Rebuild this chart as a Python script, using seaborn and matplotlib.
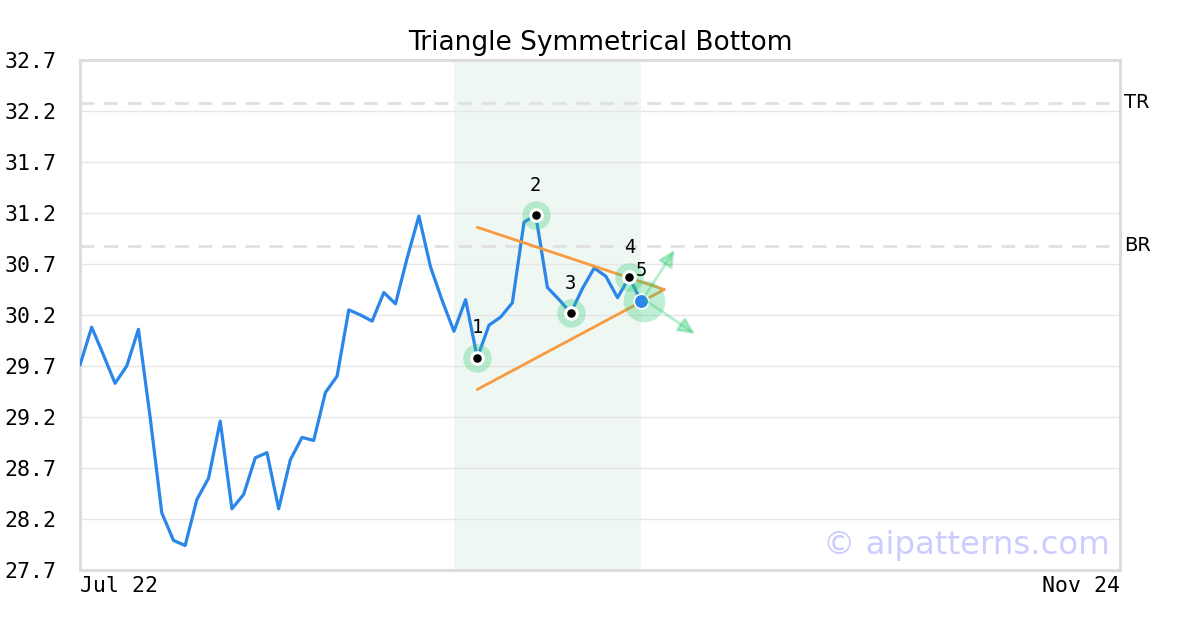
import numpy as np
import pandas as pd
import matplotlib
matplotlib.use("Agg")
import matplotlib.pyplot as plt
import seaborn as sns

# data (trading-day index -> close)
prices = [29.71, 30.08, 29.81, 29.53, 29.70, 30.06, 29.20, 28.26, 27.99, 27.94,
          28.39, 28.60, 29.16, 28.30, 28.44, 28.80, 28.85, 28.30, 28.78, 29.00,
          28.97, 29.44, 29.60, 30.25, 30.20, 30.14, 30.42, 30.31, 30.76, 31.17,
          30.67, 30.34, 30.04, 30.35, 29.78, 30.10, 30.18, 30.32, 31.11, 31.18,
          30.47, 30.35, 30.22, 30.46, 30.66, 30.58, 30.37, 30.57, 30.34]
n_days = 89
x_ticklabels = ["Jul 22", "Nov 24"]

pivot_idx = [34, 39, 42, 47]
pivot_labels = ["1", "2", "3", "4"]
last_label = "5"

pattern_span = (32, 48)
upper_line = ([34, 50], [31.06, 30.45])
lower_line = ([34, 50], [29.47, 30.45])
arrow_up_end = (51.0, 30.86)
arrow_down_end = (52.8, 30.00)

tr_level, br_level = 32.28, 30.88
y_ticks = [27.7, 28.2, 28.7, 29.2, 29.7, 30.2, 30.7, 31.2, 31.7, 32.2, 32.7]

df = pd.DataFrame({"day": np.arange(len(prices)), "price": prices})
piv = df.loc[pivot_idx]
last = df.iloc[[-1]]

sns.set_style("white")
plt.rcParams["font.family"] = ["DejaVu Sans"]
plt.rcParams["text.color"] = "black"
plt.rcParams["xtick.color"] = "black"
plt.rcParams["ytick.color"] = "black"

fig = plt.figure(figsize=(12, 6.3), dpi=100)
ax = fig.add_axes([80 / 1200, 60 / 630, 1040 / 1200, 510 / 630])

ax.axvspan(*pattern_span, color="#eef7f2", zorder=0, lw=0)
ax.yaxis.grid(True, color="#e6e6e6", lw=1, zorder=1)
ax.set_axisbelow(True)

for lvl, lab in [(tr_level, "TR"), (br_level, "BR")]:
    ax.axhline(lvl, color="#e0e0e0", lw=2, ls=(0, (5, 3.5)), zorder=2)
    ax.text(1.004, lvl, lab, transform=ax.get_yaxis_transform(),
            ha="left", va="center", fontsize=14, color="black")

sns.lineplot(data=df, x="day", y="price", color="#2a86e8", lw=2.3,
             ax=ax, zorder=3)

ax.plot(*upper_line, color="#f89a40", lw=2, zorder=4)
ax.plot(*lower_line, color="#f89a40", lw=2, zorder=4)

# halos
sns.scatterplot(data=piv, x="day", y="price", s=420, color="#2ecc71",
                alpha=0.3, linewidth=0, ax=ax, zorder=5)
ax.scatter(last["day"] + 0.3, last["price"], s=900, color="#2ecc71",
           alpha=0.3, linewidth=0, zorder=5)

sns.scatterplot(data=piv, x="day", y="price", s=70, color="black",
                edgecolor="white", linewidth=2.2, ax=ax, zorder=6)
sns.scatterplot(data=last, x="day", y="price", s=110, color="#2a86e8",
                edgecolor="white", linewidth=1.2, ax=ax, zorder=6)

x0, y0 = last["day"].iloc[0] + 0.2, last["price"].iloc[0] + 0.02
for end in (arrow_up_end, arrow_down_end):
    ax.annotate("", xy=end, xytext=(x0, y0),
                arrowprops=dict(arrowstyle="-|>", color="#2ecc71", alpha=0.35,
                                lw=2, mutation_scale=24), zorder=7)

labels = list(zip(piv["day"], piv["price"], pivot_labels)) + \
    [(last["day"].iloc[0], last["price"].iloc[0], last_label)]
for xd, yd, lab in labels:
    ax.annotate(lab, (xd, yd), xytext=(0, 21.5), textcoords="offset points",
                ha="center", va="center", fontsize=13.5,
                family="DejaVu Sans Mono", zorder=8)

ax.set_xlim(0, n_days)
ax.set_ylim(27.7, 32.7)
ax.set_yticks(y_ticks)
ax.set_yticklabels([f"{v:.1f}" for v in y_ticks], family="DejaVu Sans Mono",
                   fontsize=15.5)
ax.set_xticks([0, n_days])
ax.set_xticklabels(x_ticklabels, family="DejaVu Sans Mono", fontsize=15.5)
ax.get_xticklabels()[0].set_ha("left")
ax.get_xticklabels()[1].set_ha("right")
ax.tick_params(axis="y", length=0, pad=17)
ax.tick_params(axis="x", length=0, pad=4)
ax.set_xlabel("")
ax.set_ylabel("")

for sp in ax.spines.values():
    sp.set_color("#dddddd")
    sp.set_linewidth(2.2)

ax.set_title("Triangle Symmetrical Bottom", fontsize=19, pad=7, color="black")

fig.text(1110 / 1200, (630 - 554) / 630, "© aipatterns.com", ha="right",
         va="baseline", fontsize=23.3, color="#ccccff")

fig.savefig("out.png", dpi=100)
